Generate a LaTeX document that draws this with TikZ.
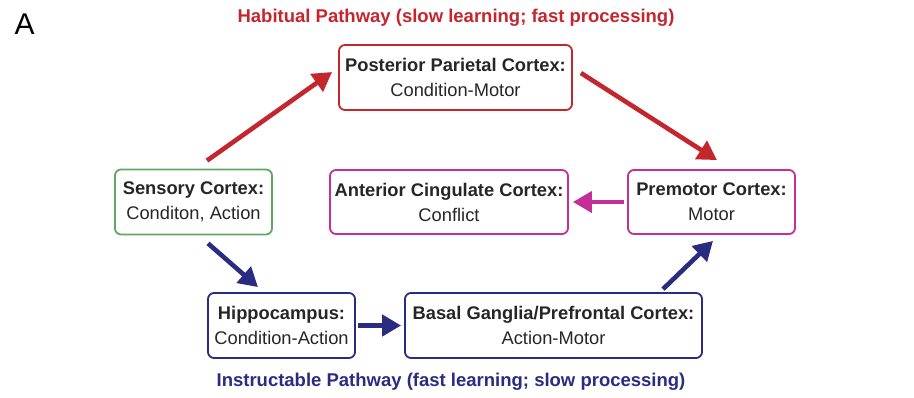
\documentclass[tikz,border=0pt]{standalone}
\usepackage{fontspec}
\setmainfont{Liberation Sans}
\usetikzlibrary{arrows.meta}
\definecolor{habred}{HTML}{C4262E}
\definecolor{sensgreen}{HTML}{5FA863}
\definecolor{motmag}{HTML}{C42E96}
\definecolor{insblue}{HTML}{2A2C82}
\begin{document}
\begin{tikzpicture}[x=1pt,y=-1pt,
  region/.style={draw, line width=1.8pt, rounded corners=6pt, inner sep=0pt, align=center,
    font=\fontsize{18.3}{25}\selectfont, text=black!85},
  link/.style={line width=4.6pt, -{Triangle[length=19pt,width=21pt]}},
  title/.style={font=\bfseries\fontsize{18.5}{20}\selectfont}]
  \useasboundingbox (0,0) rectangle (914,398);
  \node[anchor=west, font=\fontsize{30}{32}\selectfont] (lbl) at (11,24) {A};
  \node[title, text=habred] (habit) at (456,18) {Habitual Pathway (slow learning; fast processing)};
  \node[title, text=insblue] (instr) at (451,382) {Instructable Pathway (fast learning; slow processing)};

  \node[region, draw=habred, minimum width=233pt, minimum height=65pt] (ppc) at (455.5,77.5)
    {\textbf{Posterior Parietal Cortex:}\\Condition-Motor};
  \node[region, draw=sensgreen, minimum width=157pt, minimum height=65pt] (sens) at (193.5,202)
    {\textbf{Sensory Cortex:}\\Conditon, Action};
  \node[region, draw=motmag, minimum width=238pt, minimum height=64pt] (acc) at (449,202)
    {\textbf{Anterior Cingulate Cortex:}\\Conflict};
  \node[region, draw=motmag, minimum width=167pt, minimum height=64pt] (pmc) at (711.5,202)
    {\textbf{Premotor Cortex:}\\Motor};
  \node[region, draw=insblue, minimum width=147pt, minimum height=65pt] (hip) at (281.5,325.5)
    {\textbf{Hippocampus:}\\Condition-Action};
  \node[region, draw=insblue, minimum width=297pt, minimum height=65pt] (bg) at (553.5,325.5)
    {\textbf{Basal Ganglia/Prefrontal Cortex:}\\Action-Motor};

  % habitual route
  \draw[link, habred] ([xshift=13.5pt,yshift=8pt]sens.north) -- ([xshift=-6pt,yshift=5.5pt]ppc.west);
  \draw[link, habred] ([xshift=8pt,yshift=4.5pt]ppc.east) -- ([xshift=5.5pt,yshift=9pt]pmc.north);
  % conflict monitoring
  \draw[link, motmag, line width=4pt] ([xshift=-3pt]pmc.west) -- ([xshift=4pt]acc.east);
  % instructable route
  \draw[link, insblue] ([xshift=14.5pt,yshift=-8pt]sens.south) -- ([xshift=-23.5pt,yshift=5pt]hip.north);
  \draw[link, insblue] ([xshift=2pt]hip.east) -- ([xshift=-3pt]bg.west);
  \draw[link, insblue] ([xshift=109.5pt,yshift=3pt]bg.north) -- ([xshift=1.5pt,yshift=-6pt]pmc.south);
\end{tikzpicture}
\end{document}
